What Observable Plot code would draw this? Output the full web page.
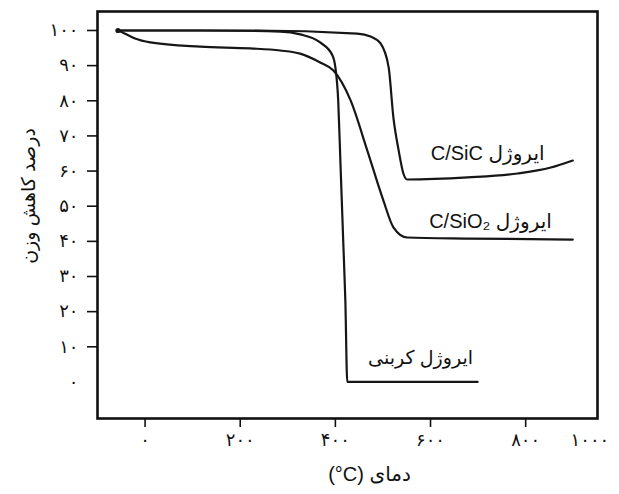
<!DOCTYPE html>
<html><head><meta charset="utf-8">
<script src="https://cdn.jsdelivr.net/npm/d3@7"></script>
<script src="https://cdn.jsdelivr.net/npm/@observablehq/plot@0.6"></script>
<style>body{margin:0;background:#fff;} svg{display:block}</style>
</head><body><div id="chart"></div>
<script>
// Series: temperature (°C) and remaining weight (%)
const carbonT = [-57, 116, 284, 326, 368, 394, 400, 406, 411, 417, 421, 425, 699];
const carbonW = [100, 100, 99.7, 98.9, 96.6, 92.9, 89.5, 80, 61, 38.3, 23, 0, 0];

const sicT = [-57, 221, 446, 474, 495, 512, 522, 533, 543, 551, 678, 783, 853, 899];
const sicW = [100, 100, 99.1, 98.3, 96.3, 89.5, 75.2, 65.9, 59.3, 57.6, 58.2, 59.3, 61.0, 63.0];

const sio2T = [-57, -42, -21, 11, 116, 221, 284, 326, 368, 396, 432, 467, 501, 522, 551, 678, 899];
const sio2W = [100, 99.1, 97.7, 96.6, 95.4, 94.9, 94.3, 93.4, 90.9, 88.6, 80.1, 65.9, 51.6, 44, 41.1, 40.8, 40.5];

// Axis ticks
const xTicks = [0, 200, 400, 600, 800];
const xEdgeTick = [{value: 935, label: 1000}]; // "1000" label as placed at the frame's right edge
const yTicks = [10, 20, 30, 40, 50, 60, 70, 80, 90, 100];
const yZeroTick = [0];

// Texts
const xTitle = "دمای \u2066(°C)\u2069";
const yTitle = "درصد کاهش وزن";
const seriesLabels = [
  {x: 720, y: 65, text: "ایروژل C/SiC", size: 20},
  {x: 726, y: 45.7, text: "ایروژل C/SiO\u2082", size: 20},
  {x: 579, y: 6.7, text: "ایروژل کربنی", size: 19}
];

const fa = n => String(n).replace(/\d/g, d => "۰۱۲۳۴۵۶۷۸۹"[d]);
const rec = (T, W) => T.map((t, i) => ({t, w: W[i]}));

const lineOpts = {x: "t", y: "w", stroke: "#161616", strokeWidth: 2.2, curve: "monotone-x"};

const plot = Plot.plot({
  width: 619, height: 494,
  marginLeft: 97, marginRight: 22, marginTop: 11, marginBottom: 76,
  style: {fontFamily: "'Liberation Sans','DejaVu Sans',sans-serif", fontSize: "18px", color: "#111", background: "#fff"},
  x: {domain: [-100, 951]},
  y: {domain: [-10.4, 105.4]},
  marks: [
    Plot.axisY(yTicks, {tickSize: 10, tickPadding: 9, tickFormat: fa, label: null, strokeWidth: 1.6, fontSize: 18}),
    Plot.axisY(yZeroTick, {tickSize: 0, tickPadding: 19, tickFormat: fa, label: null, fontSize: 18}),
    Plot.axisX(xTicks, {tickSize: 9, tickPadding: 6, tickFormat: fa, label: null, strokeWidth: 1.6, fontSize: 18}),
    Plot.text(xEdgeTick, {x: "value", text: d => fa(d.label), frameAnchor: "bottom", lineAnchor: "top", dy: 15, fontSize: 18}),
    Plot.line(rec(carbonT, carbonW), lineOpts),
    Plot.line(rec(sicT, sicW), lineOpts),
    Plot.line(rec(sio2T, sio2W), lineOpts),
    Plot.dot(rec(carbonT, carbonW).slice(0, 1), {x: "t", y: "w", r: 2.6, fill: "#161616", stroke: "none"}),
    Plot.text(seriesLabels, {x: "x", y: "y", text: "text", fontSize: "size", fill: "#111"}),
    Plot.text([xTitle], {frameAnchor: "bottom", textAnchor: "middle", dx: 22, dy: 62, fontSize: 20, fill: "#111"}),
    Plot.text([yTitle], {frameAnchor: "left", textAnchor: "middle", rotate: -90, dx: -69, dy: -19, fontSize: 19, fill: "#111"}),
    Plot.frame({stroke: "#111", strokeWidth: 2.6})
  ]
});

d3.select(plot).selectAll("text")
  .filter(function() { return /[\u0621-\u064A\u067E\u0686\u0698\u06A9\u06AF\u06CC]/.test(this.textContent); })
  .attr("direction", "rtl");

document.getElementById("chart").appendChild(plot);
</script>
</body></html>
